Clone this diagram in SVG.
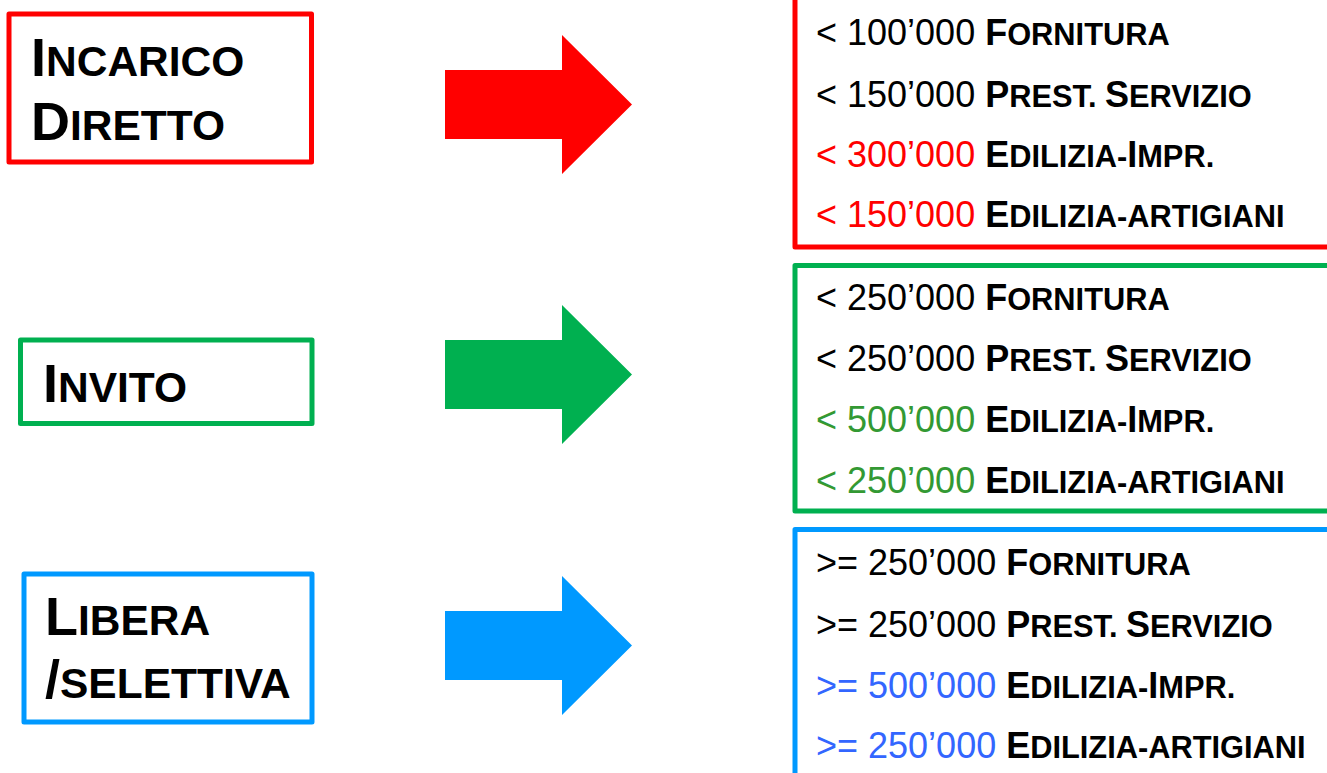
<svg xmlns="http://www.w3.org/2000/svg" width="1327" height="773" viewBox="0 0 1327 773">
<style>
.box{fill:#ffffff;stroke-width:5;stroke-linejoin:round}
.lt{font-family:"Liberation Sans",Arial,sans-serif;font-weight:bold;fill:#000000;font-size:54px}
.lt .sc{font-size:42.5px}
.rt{font-family:"Liberation Sans",Arial,sans-serif;font-size:36px;fill:#000000}
.rt .b{font-weight:bold;fill:#000000}
.rt .sc{font-weight:bold;font-size:30.8px;fill:#000000}
.red{fill:#FF0000}
.grn{fill:#339933}
.blu{fill:#3366FF}
</style>
<rect width="1327" height="773" fill="#ffffff"/>
<g id="node-incarico">
<rect class="box" x="9" y="14" width="302.5" height="148" stroke="#FF0000"/>
<text class="lt" x="31" y="76">I<tspan class="sc">NCARICO</tspan></text>
<text class="lt" x="31" y="140">D<tspan class="sc">IRETTO</tspan></text>
</g>
<g id="node-invito">
<rect class="box" x="20.5" y="340" width="291.5" height="83.5" stroke="#00B050"/>
<text class="lt" x="43" y="402">I<tspan class="sc">NVITO</tspan></text>
</g>
<g id="node-libera">
<rect class="box" x="24" y="574" width="288" height="148" stroke="#0099FF"/>
<text class="lt" x="45" y="635">L<tspan class="sc">IBERA</tspan></text>
<text class="lt" x="45" y="698">/<tspan class="sc">SELETTIVA</tspan></text>
</g>
<g id="connectors">
<path d="M445,70 H562 V35 L632,104.5 L562,174 V139 H445 Z" fill="#FF0000"/>
<path d="M445,340 H562 V305 L632,374.5 L562,444 V409 H445 Z" fill="#00B050"/>
<path d="M445,611 H562 V576 L632,645.5 L562,715 V680 H445 Z" fill="#0099FF"/>
</g>
<g id="node-soglie-incarico">
<rect class="box" x="795" y="-10" width="600" height="257" stroke="#FF0000"/>
<text class="rt" x="816" y="45">&lt; 100’000 <tspan class="b">F</tspan><tspan class="sc">ORNITURA</tspan></text>
<text class="rt" x="816" y="107">&lt; 150’000 <tspan class="b">P</tspan><tspan class="sc">REST. </tspan><tspan class="b">S</tspan><tspan class="sc">ERVIZIO</tspan></text>
<text class="rt" x="816" y="167"><tspan class="red">&lt; 300’000 </tspan><tspan class="b">E</tspan><tspan class="sc">DILIZIA-</tspan><tspan class="b">I</tspan><tspan class="sc">MPR.</tspan></text>
<text class="rt" x="816" y="227"><tspan class="red">&lt; 150’000 </tspan><tspan class="b">E</tspan><tspan class="sc">DILIZIA-ARTIGIANI</tspan></text>
</g>
<g id="node-soglie-invito">
<rect class="box" x="795" y="265.5" width="600" height="245.5" stroke="#00B050"/>
<text class="rt" x="816" y="310">&lt; 250’000 <tspan class="b">F</tspan><tspan class="sc">ORNITURA</tspan></text>
<text class="rt" x="816" y="371">&lt; 250’000 <tspan class="b">P</tspan><tspan class="sc">REST. </tspan><tspan class="b">S</tspan><tspan class="sc">ERVIZIO</tspan></text>
<text class="rt" x="816" y="432"><tspan class="grn">&lt; 500’000 </tspan><tspan class="b">E</tspan><tspan class="sc">DILIZIA-</tspan><tspan class="b">I</tspan><tspan class="sc">MPR.</tspan></text>
<text class="rt" x="816" y="493"><tspan class="grn">&lt; 250’000 </tspan><tspan class="b">E</tspan><tspan class="sc">DILIZIA-ARTIGIANI</tspan></text>
</g>
<g id="node-soglie-libera">
<rect class="box" x="795" y="529.5" width="600" height="300" stroke="#0099FF"/>
<text class="rt" x="816" y="575">&gt;= 250’000 <tspan class="b">F</tspan><tspan class="sc">ORNITURA</tspan></text>
<text class="rt" x="816" y="637">&gt;= 250’000 <tspan class="b">P</tspan><tspan class="sc">REST. </tspan><tspan class="b">S</tspan><tspan class="sc">ERVIZIO</tspan></text>
<text class="rt" x="816" y="698"><tspan class="blu">&gt;= 500’000 </tspan><tspan class="b">E</tspan><tspan class="sc">DILIZIA-</tspan><tspan class="b">I</tspan><tspan class="sc">MPR.</tspan></text>
<text class="rt" x="816" y="758"><tspan class="blu">&gt;= 250’000 </tspan><tspan class="b">E</tspan><tspan class="sc">DILIZIA-ARTIGIANI</tspan></text>
</g>
</svg>
